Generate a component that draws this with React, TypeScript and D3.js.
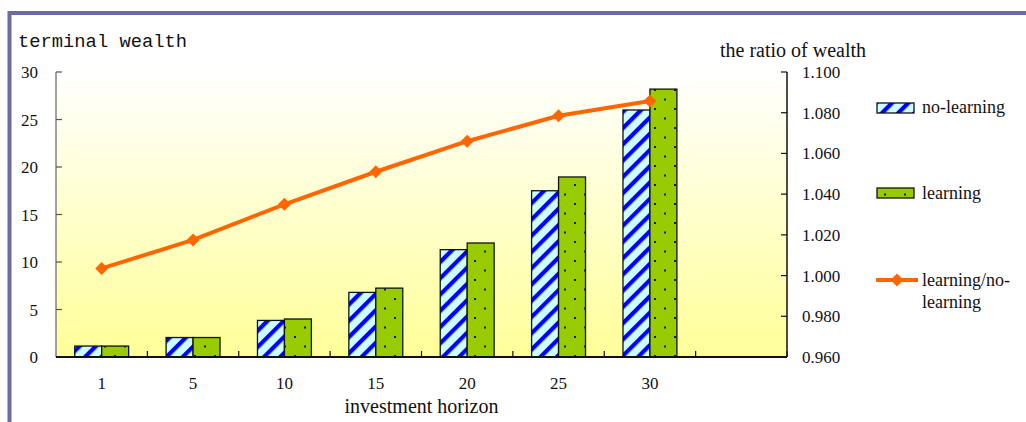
import React from "react";
import * as d3 from "d3";

// Investment horizons (years); the trailing blank slot keeps an empty band on the right
const horizons = ["1", "5", "10", "15", "20", "25", "30"];
const slots = [...horizons, ""];

// Terminal wealth by strategy
const noLearning = [1.15, 2.05, 3.85, 6.8, 11.3, 17.5, 26.0];
const learning = [1.15, 2.05, 4.0, 7.25, 12.0, 18.95, 28.2];

// Ratio of wealth (learning / no-learning)
const ratio = [1.0035, 1.0175, 1.035, 1.051, 1.066, 1.0785, 1.0858];

const leftTicks = [0, 5, 10, 15, 20, 25, 30];
const rightTicks = [0.96, 0.98, 1.0, 1.02, 1.04, 1.06, 1.08, 1.1];

const W = 1026;
const H = 422;
const plot = { left: 56, right: 787, top: 72, bottom: 357 };

const SERIF = "'Liberation Serif', 'Times New Roman', serif";
const MONO = "'Liberation Mono', 'Courier New', monospace";
const ORANGE = "#ff6600";

export default function App() {
  const x = d3.scaleBand<string>().domain(slots).range([plot.left, plot.right]).padding(0);
  const groupW = x.bandwidth() * 0.59;
  const sub = d3.scaleBand<string>().domain(["no", "yes"]).range([0, groupW]).padding(0);
  const yL = d3.scaleLinear().domain([0, 30]).range([plot.bottom, plot.top]);
  const yR = d3.scaleLinear().domain([0.96, 1.1]).range([plot.bottom, plot.top]);
  const cx = (c: string) => (x(c) as number) + x.bandwidth() / 2;

  const line = d3
    .line<number>()
    .x((_, i) => cx(horizons[i]))
    .y((d) => yR(d));

  const diamond = (px: number, py: number, r: number) =>
    `M${px},${py - r}L${px + r},${py}L${px},${py + r}L${px - r},${py}Z`;

  const boundaries = d3.range(1, slots.length + 1).map((i) =>
    i < slots.length ? (x(slots[i]) as number) : plot.right
  );

  return (
    <svg
      width={W}
      height={H}
      style={{ position: "absolute", left: 0, top: 0, background: "#fff" }}
    >
      <defs>
        <linearGradient id="bg" x1="0" y1="0" x2="0" y2="1">
          <stop offset="0" stopColor="#ffffff" />
          <stop offset="1" stopColor="#ffff99" />
        </linearGradient>
        <pattern
          id="stripes"
          patternUnits="userSpaceOnUse"
          width={11.5}
          height={11.5}
          patternTransform="rotate(45)"
        >
          <rect width={11.5} height={11.5} fill="#ccffff" />
          <rect x={0} width={4.2} height={11.5} fill="#0000ff" />
        </pattern>
        <pattern id="dots" patternUnits="userSpaceOnUse" width={20} height={19}>
          <rect width={20} height={19} fill="#99cc00" />
          <rect x={4} y={3.5} width={2} height={2} fill="#1a1a1a" />
          <rect x={14} y={13} width={2} height={2} fill="#1a1a1a" />
        </pattern>
      </defs>

      {/* outer frame */}
      <path d={`M9.5,${H + 5}V13H${W + 5}`} fill="none" stroke="#6b6ba3" strokeWidth={4} />

      {/* plot background */}
      <rect
        x={plot.left}
        y={plot.top}
        width={plot.right - plot.left}
        height={plot.bottom - plot.top}
        fill="url(#bg)"
      />

      {/* bars */}
      {horizons.map((h, i) => {
        const gx = cx(h) - groupW / 2;
        return (
          <g key={h}>
            <rect
              x={gx + (sub("no") as number)}
              y={yL(noLearning[i])}
              width={sub.bandwidth()}
              height={yL(0) - yL(noLearning[i])}
              fill="url(#stripes)"
              stroke="#111"
              strokeWidth={1.3}
            />
            <rect
              x={gx + (sub("yes") as number)}
              y={yL(learning[i])}
              width={sub.bandwidth()}
              height={yL(0) - yL(learning[i])}
              fill="url(#dots)"
              stroke="#111"
              strokeWidth={1.3}
            />
          </g>
        );
      })}

      {/* left axis */}
      <line x1={plot.left} x2={plot.left} y1={plot.top} y2={plot.bottom} stroke="#808080" strokeWidth={1.5} />
      {leftTicks.map((t) => (
        <g key={"l" + t}>
          <line x1={plot.left} x2={plot.left + 6} y1={yL(t)} y2={yL(t)} stroke="#555" strokeWidth={1.2} />
          <text
            x={38}
            y={yL(t) + 6}
            textAnchor="end"
            fontFamily={SERIF}
            fontSize={17}
            fill="#111"
          >
            {t}
          </text>
        </g>
      ))}

      {/* right axis */}
      <line x1={plot.right} x2={plot.right} y1={plot.top} y2={plot.bottom} stroke="#111" strokeWidth={1.5} />
      {rightTicks.map((t) => (
        <g key={"r" + t}>
          <line x1={plot.right - 6} x2={plot.right} y1={yR(t)} y2={yR(t)} stroke="#111" strokeWidth={1.2} />
          <text x={802} y={yR(t) + 6} fontFamily={SERIF} fontSize={17} fill="#111">
            {d3.format(".3f")(t)}
          </text>
        </g>
      ))}

      {/* bottom axis */}
      <line x1={plot.left} x2={plot.right} y1={plot.bottom} y2={plot.bottom} stroke="#111" strokeWidth={1.8} />
      {boundaries.map((bx, i) => (
        <line key={"b" + i} x1={bx} x2={bx} y1={plot.bottom} y2={plot.bottom - 6} stroke="#111" strokeWidth={1.2} />
      ))}
      {horizons.map((h) => (
        <text key={"x" + h} x={cx(h)} y={389} textAnchor="middle" fontFamily={SERIF} fontSize={17} fill="#111">
          {h}
        </text>
      ))}

      {/* ratio line */}
      <path d={line(ratio) ?? ""} fill="none" stroke={ORANGE} strokeWidth={4} strokeLinejoin="round" />
      {ratio.map((r, i) => (
        <path key={"d" + i} d={diamond(cx(horizons[i]), yR(r), 6.5)} fill={ORANGE} />
      ))}

      {/* titles */}
      <text x={18} y={47} fontFamily={MONO} fontSize={18.8} fill="#111">
        terminal wealth
      </text>
      <text x={720} y={57} fontFamily={SERIF} fontSize={20} fill="#111">
        the ratio of wealth
      </text>
      <text x={(plot.left + plot.right) / 2} y={413} textAnchor="middle" fontFamily={SERIF} fontSize={20} fill="#111">
        investment horizon
      </text>

      {/* legend */}
      <rect x={877} y={103} width={37} height={10} fill="url(#stripes)" stroke="#111" strokeWidth={1.3} />
      <text x={922} y={113} fontFamily={SERIF} fontSize={18} fill="#111">
        no-learning
      </text>
      <rect x={877} y={188} width={37} height={10} fill="url(#dots)" stroke="#111" strokeWidth={1.3} />
      <text x={922} y={199} fontFamily={SERIF} fontSize={18} fill="#111">
        learning
      </text>
      <line x1={876} x2={918} y1={280} y2={280} stroke={ORANGE} strokeWidth={4} />
      <path d={diamond(897, 280, 6.5)} fill={ORANGE} />
      <text x={922} y={286} fontFamily={SERIF} fontSize={18} fill="#111">
        learning/no-
      </text>
      <text x={922} y={308} fontFamily={SERIF} fontSize={18} fill="#111">
        learning
      </text>
    </svg>
  );
}
